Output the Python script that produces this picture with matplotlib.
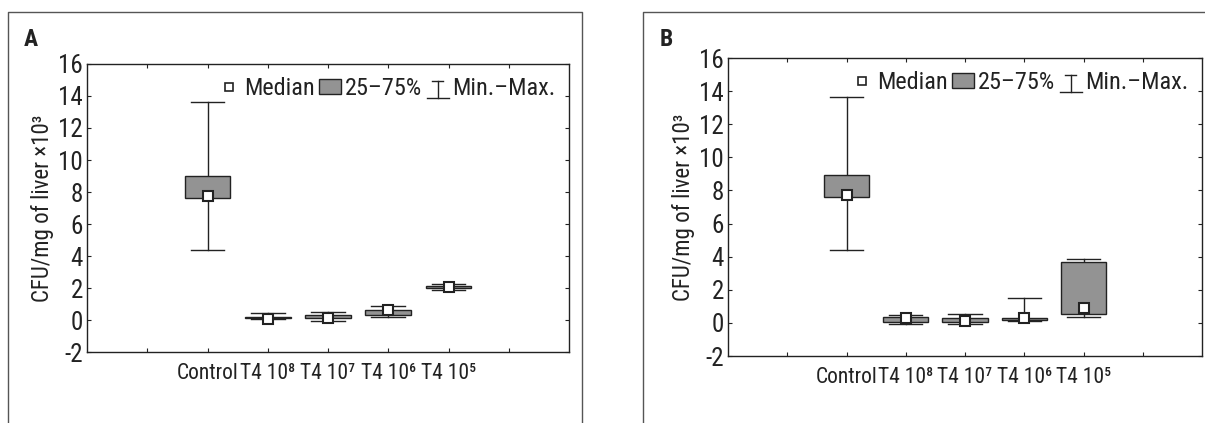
import matplotlib
matplotlib.use("Agg")
import matplotlib.pyplot as plt
from matplotlib.lines import Line2D
from matplotlib.patches import Patch, Rectangle
from matplotlib.legend_handler import HandlerBase
from matplotlib import font_manager

installed = {f.name for f in font_manager.fontManager.ttflist}
condensed = [n for n in ['Roboto Condensed', 'Liberation Sans Narrow', 'Open Sans Condensed', 'DejaVu Sans Condensed'] if n in installed]
if condensed:
    plt.rcParams['font.family'] = [condensed[0], 'DejaVu Sans']
    scale = 1.0
else:
    plt.rcParams['font.family'] = ['Lato', 'DejaVu Sans']
    scale = 0.78
plt.rcParams['axes.unicode_minus'] = False

groups = ['Control', 'T4 10⁸', 'T4 10⁷', 'T4 10⁶', 'T4 10⁵']

# panel A: min, q1, median, q3, max
a_min = [4.4, 0.05, -0.05, 0.2, 1.85]
a_q1 = [7.6, 0.12, 0.12, 0.3, 2.0]
a_med = [7.75, 0.05, 0.15, 0.6, 2.05]
a_q3 = [9.0, 0.2, 0.3, 0.62, 2.1]
a_max = [13.6, 0.42, 0.48, 0.9, 2.25]

# panel B
b_min = [4.4, -0.06, -0.04, 0.14, 0.38]
b_q1 = [7.6, 0.04, 0.06, 0.15, 0.56]
b_med = [7.75, 0.28, 0.14, 0.32, 0.89]
b_q3 = [8.95, 0.35, 0.28, 0.3, 3.65]
b_max = [13.65, 0.47, 0.56, 1.53, 3.86]

GRAY = '#939393'
EDGE = '#222222'


class MinMaxHandler(HandlerBase):
    def create_artists(self, legend, orig_handle, xd, yd, w, h, fontsize, trans):
        cx = xd + w / 2
        top = Line2D([xd + w * 0.25, xd + w * 0.75], [yd + h * 1.1, yd + h * 1.1], color=EDGE, lw=1, transform=trans)
        stem = Line2D([cx, cx], [yd + h * 1.1, yd - h * 0.1], color=EDGE, lw=1, transform=trans)
        bot = Line2D([xd, xd + w], [yd - h * 0.1, yd - h * 0.1], color=EDGE, lw=1, transform=trans)
        return [top, stem, bot]


def draw_panel(ax, mins, q1s, meds, q3s, maxs):
    pos = list(range(2, 2 + len(groups)))
    bw = 0.76
    cw = 0.56
    for x, lo, a, m, b, hi in zip(pos, mins, q1s, meds, q3s, maxs):
        ax.plot([x, x], [lo, hi], color=EDGE, lw=1, zorder=1)
        ax.plot([x - cw / 2, x + cw / 2], [hi, hi], color=EDGE, lw=1, zorder=1)
        ax.plot([x - cw / 2, x + cw / 2], [lo, lo], color=EDGE, lw=1, zorder=1)
        ax.add_patch(Rectangle((x - bw / 2, a), bw, b - a, facecolor=GRAY, edgecolor=EDGE, lw=1, zorder=2))
        ax.plot([x], [m], marker='s', ms=6.5, mfc='white', mec=EDGE, mew=1.5, zorder=3)
    ax.set_xlim(0, 8)
    ax.set_ylim(-2, 16)
    ax.set_yticks(range(-2, 17, 2))
    ax.set_xticks(range(1, 8))
    ax.set_xticklabels([''] + groups + [''])
    ax.tick_params(axis='both', direction='in', length=3, labelsize=18 * scale, colors=EDGE,
                   top=True, right=True, pad=8)
    ax.tick_params(axis='x', labelsize=15.5 * scale)
    ax.tick_params(axis='y', pad=3)
    for s in ax.spines.values():
        s.set_color(EDGE)
        s.set_linewidth(1)
    ax.set_ylabel('CFU/mg of liver ×10³', fontsize=16.5 * scale, color=EDGE, labelpad=3)
    handles = [Line2D([], [], marker='s', ls='', ms=5.5, mfc='white', mec=EDGE, mew=1.2),
               Patch(facecolor=GRAY, edgecolor=EDGE, lw=1),
               'minmax']
    ax.legend(handles, ['Median', '25–75%', 'Min.–Max.'], ncol=3, loc='upper right',
              frameon=False, fontsize=17.5 * scale, handlelength=0.9, handleheight=0.55,
              handletextpad=0.15, columnspacing=0.2, borderaxespad=0.15, labelcolor=EDGE,
              handler_map={str: MinMaxHandler()})


fig = plt.figure(figsize=(12.05, 4.23), dpi=100)

axA = fig.add_axes([87 / 1205, 1 - 352 / 423, 482 / 1205, 288 / 423])
draw_panel(axA, a_min, a_q1, a_med, a_q3, a_max)
axB = fig.add_axes([728 / 1205, 1 - 356 / 423, 474 / 1205, 298 / 423])
draw_panel(axB, b_min, b_q1, b_med, b_q3, b_max)

# panel frames, open at the bottom
fig.add_artist(Line2D([8 / 1205, 8 / 1205, 582 / 1205, 582 / 1205],
                      [0, 1 - 12 / 423, 1 - 12 / 423, 0], color='#555555', lw=1))
fig.add_artist(Line2D([643 / 1205, 643 / 1205, 1.01],
                      [0, 1 - 12 / 423, 1 - 12 / 423], color='#555555', lw=1))

fig.text(24 / 1205, 1 - 40 / 423, 'A', fontsize=17 * scale, fontweight='bold', color=EDGE, va='center')
fig.text(660 / 1205, 1 - 40 / 423, 'B', fontsize=17 * scale, fontweight='bold', color=EDGE, va='center')

fig.savefig('out.png', dpi=100)
